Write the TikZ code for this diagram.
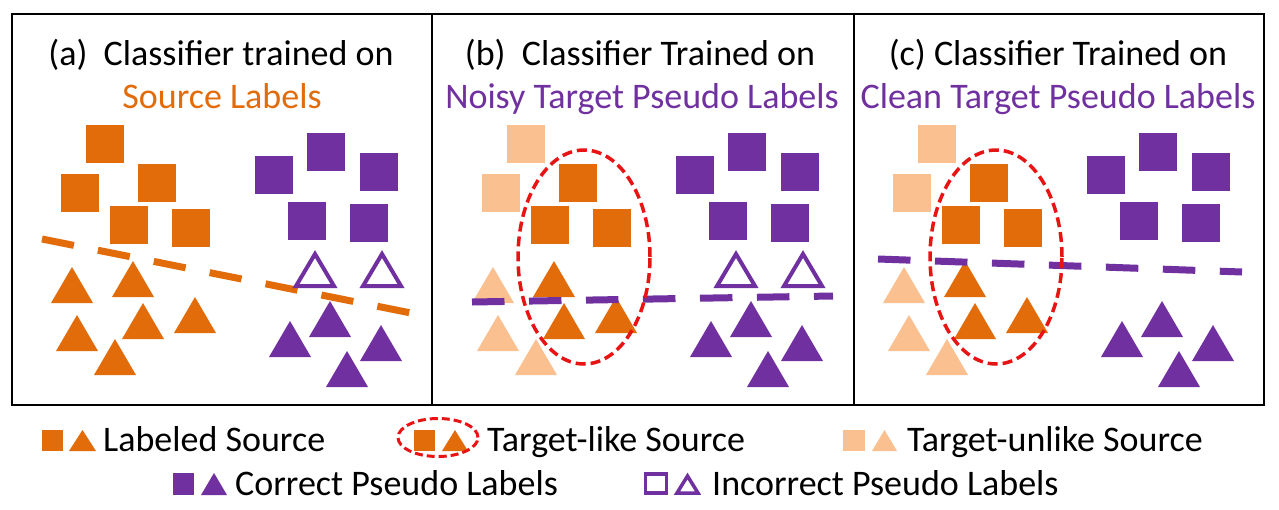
\documentclass[tikz,border=0pt]{standalone}
\usepackage{fontspec}
\setmainfont{Carlito}
\definecolor{org}{RGB}{227,108,10}
\definecolor{lorg}{RGB}{250,192,144}
\definecolor{pur}{RGB}{112,48,160}
\definecolor{dred}{RGB}{232,20,20}
\newcommand\mySq[3]{\fill[#1] (#2-19,#3-19) rectangle ++(38,38);}
\newcommand\myTri[3]{\fill[#1] (#2,#3) -- ++(21,36) -- ++(-42,0) -- cycle;}
\newcommand\myHTri[2]{\draw[pur,line width=4pt,line join=miter] (#1,#2+4) -- ++(19,32) -- ++(-38,0) -- cycle;}
% #1 = colour of target-unlike source, #2 = colour of target-like source
\newcommand\myPanel[2]{%
  \mySq{#1}{105}{144}\mySq{#1}{80}{193}%
  \mySq{#2}{157}{183}\mySq{#2}{129}{225}\mySq{#2}{191}{228}%
  \myTri{#1}{72}{267}\myTri{#2}{133}{261}\myTri{#1}{77}{315}%
  \myTri{#2}{143}{303}\myTri{#2}{195}{297}\myTri{#1}{115}{339}%
  \mySq{pur}{274}{175}\mySq{pur}{326}{152}\mySq{pur}{379}{172}%
  \mySq{pur}{307}{221}\mySq{pur}{369}{223}%
  \myTri{pur}{290}{321}\myTri{pur}{330}{301}\myTri{pur}{381}{325}\myTri{pur}{347}{351}%
}
\begin{document}
\begin{tikzpicture}[x=1pt,y=-1pt,
  every node/.style={font=\fontsize{36}{43}\selectfont, inner sep=0pt},
  frame/.style={line width=2pt, black},
  bound/.style={line width=7pt, dash pattern=on 32.5pt off 24.5pt},
  ring/.style={dred, line width=3.5pt, dash pattern=on 10pt off 5pt},
  legtext/.style={anchor=base west}]
\useasboundingbox (0,0) rectangle (1279,509);
\fill[white] (0,0) rectangle (1279,509);

% panel (a)
\myPanel{org}{org}
\draw[bound, org] (42,239) -- (411,313);
\myHTri{315}{250}\myHTri{382}{250}

% panel (b)
\begin{scope}[xshift=421pt]
\myPanel{lorg}{org}
\myHTri{315}{250}\myHTri{382}{250}
\end{scope}
\draw[bound, pur] (472,302) -- (833,296);
\draw[ring] (584,257) ellipse [x radius=66pt, y radius=107pt];

% panel (c)
\begin{scope}[xshift=832pt]
\myPanel{lorg}{org}
\end{scope}
\draw[bound, pur] (878,259) -- (1242,272);
\draw[ring] (996,257) ellipse [x radius=66pt, y radius=107pt];

% frames
\draw[frame] (12,14) rectangle (1264,405);
\draw[frame] (432,14) -- (432,405);
\draw[frame] (854,14) -- (854,405);

% titles
\node[anchor=base] (ta1) at (221,65) {(a)\ \ Classifier trained on};
\node[anchor=base, text=org] (ta2) at (222,108) {Source Labels};
\node[anchor=base] (tb1) at (640,65) {(b)\ \ Classifier Trained on};
\node[anchor=base, text=pur] (tb2) at (642,108) {Noisy Target Pseudo Labels};
\node[anchor=base] (tc1) at (1058,65) {(c) Classifier Trained on};
\node[anchor=base, text=pur] (tc2) at (1058,108) {Clean Target Pseudo Labels};

% legend row 1
\fill[org] (42,430) rectangle (63,451);
\fill[org] (82.5,430) -- (96,451) -- (69,451) -- cycle;
\node[legtext] (l1) at (103,451) {Labeled Source};
\fill[org] (414,430) rectangle (435,451);
\fill[org] (455,430) -- (468,451) -- (442,451) -- cycle;
\draw[ring, line width=3pt, dash pattern=on 8pt off 4pt] (438,437.5) ellipse [x radius=40pt, y radius=19pt];
\node[legtext] (l2) at (487,451) {Target-like Source};
\fill[lorg] (843,430) rectangle (865,451);
\fill[lorg] (884.5,430) -- (897,451) -- (872,451) -- cycle;
\node[legtext] (l3) at (907,451) {Target-unlike Source};

% legend row 2
\fill[pur] (173,473) rectangle (194,495);
\fill[pur] (214,473) -- (227,495) -- (201,495) -- cycle;
\node[legtext] (l4) at (235,495) {Correct Pseudo Labels};
\draw[pur, line width=3.5pt] (645.5,474) rectangle (666.5,493);
\draw[pur, line width=3.5pt, line join=miter] (687.5,476) -- (698,493) -- (677,493) -- cycle;
\node[legtext] (l5) at (712,495) {Incorrect Pseudo Labels};
\end{tikzpicture}
\end{document}
